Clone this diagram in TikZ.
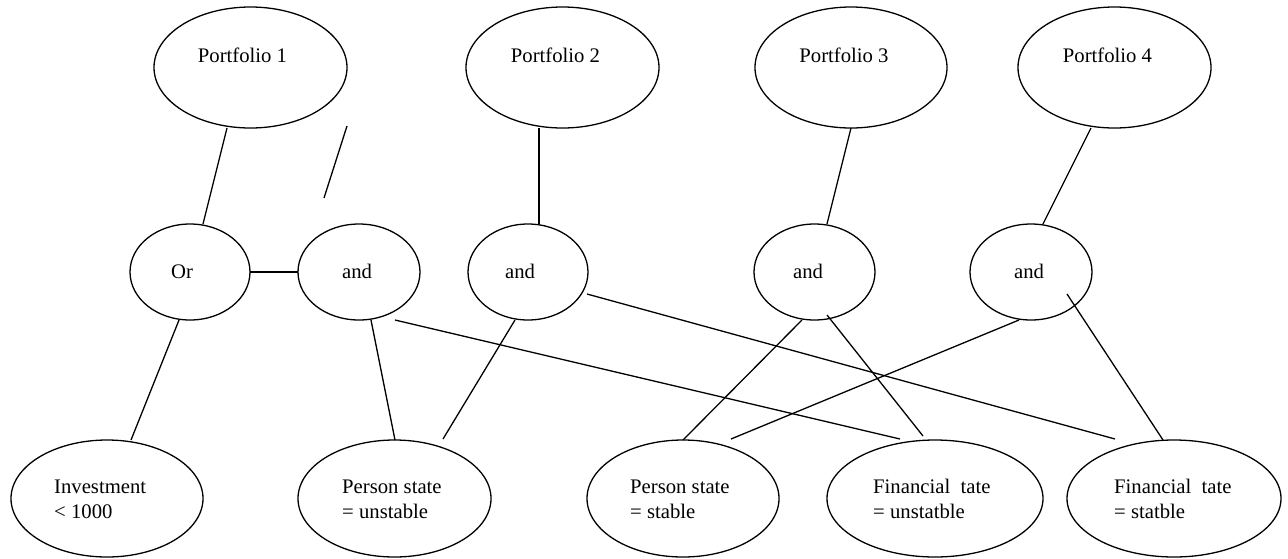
\documentclass[tikz,border=0pt]{standalone}
\usepackage{fontspec}
\setmainfont{Liberation Serif}
\usetikzlibrary{shapes.geometric}

\tikzset{
  ell/.style={draw=black, ellipse, line width=1.3pt, inner sep=0pt, outer sep=0pt},
  big/.style={ell, minimum width=193pt, minimum height=121pt},
  gate/.style={ell, minimum width=121pt, minimum height=96pt},
  leaf/.style={ell, minimum width=193pt, minimum height=117pt},
  wideleaf/.style={ell, minimum width=215pt, minimum height=117pt},
  lbl/.style={inner sep=0pt, font=\fontsize{20.7}{25}\selectfont},
  ctext/.style={lbl, anchor=base},
  ltext/.style={lbl, anchor=base west},
  conn/.style={draw=black, line width=1.3pt}
}

\begin{document}
\begin{tikzpicture}[x=1pt, y=-1pt]
  \useasboundingbox (0,0) rectangle (1288,558);
  \fill[white] (0,0) rectangle (1288,558);

  % portfolios
  \node[big] (p1) at (250.5,67.5) {};
  \node[big] (p2) at (562.5,67.5) {};
  \node[big, minimum width=192pt] (p3) at (851,67.5) {};
  \node[big] (p4) at (1114.5,67.5) {};
  \node[ctext] (p1t) at (242.5,62.7) {Portfolio 1};
  \node[ctext] (p2t) at (555.5,62.7) {Portfolio 2};
  \node[ctext] (p3t) at (844,62.7) {Portfolio 3};
  \node[ctext] (p4t) at (1107.5,62.7) {Portfolio 4};

  % logic gates
  \node[gate, minimum width=120pt] (orn) at (190,272) {};
  \node[gate, minimum width=122pt] (a1) at (359,272) {};
  \node[gate, minimum width=120pt] (a2) at (528,272) {};
  \node[gate] (a3) at (814.5,272) {};
  \node[gate, minimum width=122pt] (a4) at (1031,272) {};
  \node[ctext] (ort) at (182,278.3) {Or};
  \node[ctext] (a1t) at (357,278.3) {and};
  \node[ctext] (a2t) at (520,278.3) {and};
  \node[ctext] (a3t) at (808,278.3) {and};
  \node[ctext] (a4t) at (1029,278.3) {and};

  % conditions
  \node[leaf, minimum width=192pt] (inv) at (107,498.5) {};
  \node[leaf] (pu) at (394.5,498.5) {};
  \node[leaf, minimum width=192pt] (ps) at (683,498.5) {};
  \node[wideleaf, minimum width=216pt] (fu) at (935,498.5) {};
  \node[wideleaf, minimum width=214pt] (fs) at (1174,498.5) {};
  \node[ltext] (inv1) at (54,493.3) {Investment};
  \node[ltext] (inv2) at (54,518.3) {< 1000};
  \node[ltext] (pu1) at (342,493.3) {Person state};
  \node[ltext] (pu2) at (342,518.3) {= unstable};
  \node[ltext] (ps1) at (630,493.3) {Person state};
  \node[ltext] (ps2) at (630,518.3) {= stable};
  \node[ltext] (fu1) at (873,493.3) {Financial\ \ tate};
  \node[ltext] (fu2) at (873,518.3) {= unstatble};
  \node[ltext] (fs1) at (1114,493.3) {Financial\ \ tate};
  \node[ltext] (fs2) at (1114,518.3) {= statble};

  % loose stroke between Portfolio 1 and the first "and"
  \coordinate (st1) at (347,126);
  \coordinate (st2) at (324,198);
  \draw[conn] (st1) -- (st2);

  % connectors
  \draw[conn] ([shift={(-23.5,60.5)}]p1.center) -- ([shift={(13,-48)}]orn.center);
  \draw[conn] (orn.east) -- (a1.west);
  \draw[conn] ([shift={(-23.5,60.5)}]p2.center) -- ([shift={(11,-48)}]a2.center);
  \draw[conn] ([shift={(0,60.5)}]p3.center) -- ([shift={(12.5,-48)}]a3.center);
  \draw[conn] ([shift={(-23.5,60.5)}]p4.center) -- ([shift={(12,-48)}]a4.center);
  \draw[conn] ([shift={(-11,48)}]orn.center) -- ([shift={(24,-58.5)}]inv.center);
  \draw[conn] ([shift={(12,48)}]a1.center) -- ([shift={(0.5,-58.5)}]pu.center);
  \draw[conn] ([shift={(-13,48)}]a2.center) -- ([shift={(48.5,-59.5)}]pu.center);
  \draw[conn] ([shift={(36,48)}]a1.center) -- ([shift={(-35,-59.5)}]fu.center);
  \draw[conn] ([shift={(59,22)}]a2.center) -- ([shift={(-59,-59.5)}]fs.center);
  \draw[conn] ([shift={(-12.5,48)}]a3.center) -- ([shift={(0,-58.5)}]ps.center);
  \draw[conn] ([shift={(12.5,43)}]a3.center) -- ([shift={(-12,-62.5)}]fu.center);
  \draw[conn] ([shift={(-12,48)}]a4.center) -- ([shift={(48,-59.5)}]ps.center);
  \draw[conn] ([shift={(36,22)}]a4.center) -- ([shift={(-11,-58.5)}]fs.center);
\end{tikzpicture}
\end{document}
